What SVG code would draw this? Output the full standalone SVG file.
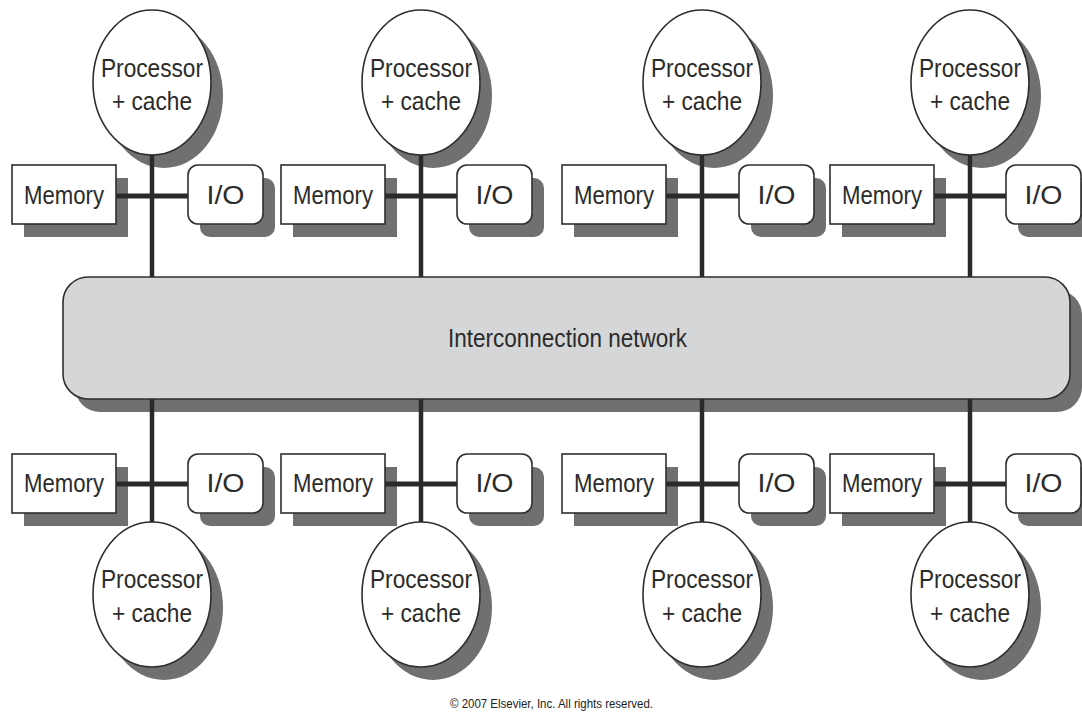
<svg xmlns="http://www.w3.org/2000/svg" width="1082" height="713" viewBox="0 0 1082 713">
  <style>
    .shadow { fill: #707070; stroke: none; }
    .box { fill: #ffffff; stroke: #2e2e2e; stroke-width: 1.6; }
    .bus { fill: #d5d6d7; stroke: #2e2e2e; stroke-width: 1.6; }
    .label { font-family: "Liberation Sans", Arial, sans-serif; font-size: 25px; fill: #2b2b2b; text-anchor: middle; }
    .link { stroke: #2a2a2a; fill: none; }
    .v { stroke-width: 4.5; }
    .h { stroke-width: 5; }
    .note { font-family: "Liberation Sans", Arial, sans-serif; font-size: 12px; fill: #222; text-anchor: middle; }
  </style>
  <rect width="1082" height="713" fill="#ffffff"/>

  <!-- drop shadows, offset down-right -->
  <g id="shadows" class="shadow" transform="translate(12,13)">
    <rect x="63" y="277" width="1007" height="122" rx="25"/>
    <!-- top row -->
    <ellipse cx="152" cy="82.5" rx="59" ry="72.5"/>
    <rect x="12" y="165" width="104" height="59"/>
    <rect x="188" y="165" width="75" height="59" rx="10"/>
    <ellipse cx="421" cy="82.5" rx="59" ry="72.5"/>
    <rect x="281" y="165" width="104" height="59"/>
    <rect x="457" y="165" width="75" height="59" rx="10"/>
    <ellipse cx="702" cy="82.5" rx="59" ry="72.5"/>
    <rect x="562" y="165" width="104" height="59"/>
    <rect x="739" y="165" width="75" height="59" rx="10"/>
    <ellipse cx="970" cy="82.5" rx="59" ry="72.5"/>
    <rect x="830" y="165" width="104" height="59"/>
    <rect x="1006" y="165" width="75" height="59" rx="10"/>
    <!-- bottom row -->
    <ellipse cx="152" cy="594.5" rx="59" ry="72.5"/>
    <rect x="12" y="454" width="104" height="59"/>
    <rect x="188" y="454" width="75" height="59" rx="10"/>
    <ellipse cx="421" cy="594.5" rx="59" ry="72.5"/>
    <rect x="281" y="454" width="104" height="59"/>
    <rect x="457" y="454" width="75" height="59" rx="10"/>
    <ellipse cx="702" cy="594.5" rx="59" ry="72.5"/>
    <rect x="562" y="454" width="104" height="59"/>
    <rect x="739" y="454" width="75" height="59" rx="10"/>
    <ellipse cx="970" cy="594.5" rx="59" ry="72.5"/>
    <rect x="830" y="454" width="104" height="59"/>
    <rect x="1006" y="454" width="75" height="59" rx="10"/>
  </g>

  <!-- connectors: processor-to-network stems and memory/IO crossbars -->
  <g id="connectors" class="link">
    <path class="v" d="M152 150V280 M421 150V280 M702 150V280 M970 150V280"/>
    <path class="v" d="M152 396V527 M421 396V527 M702 396V527 M970 396V527"/>
    <path class="h" d="M116 196H188 M385 196H457 M666 196H739 M934 196H1006"/>
    <path class="h" d="M116 484H188 M385 484H457 M666 484H739 M934 484H1006"/>
  </g>

  <g id="network">
    <rect class="bus" x="63" y="277" width="1007" height="122" rx="25"/>
    <text class="label" x="567.5" y="347" textLength="239" lengthAdjust="spacingAndGlyphs">Interconnection network</text>
  </g>

  <!-- top row nodes -->
  <g id="proc-t1"><ellipse class="box" cx="152" cy="82.5" rx="59" ry="72.5"/><text class="label" x="152" y="77" textLength="102" lengthAdjust="spacingAndGlyphs">Processor</text><text class="label" x="152" y="110" textLength="80" lengthAdjust="spacingAndGlyphs">+ cache</text></g>
  <g id="mem-t1"><rect class="box" x="12" y="165" width="104" height="59"/><text class="label" x="64" y="204" textLength="80" lengthAdjust="spacingAndGlyphs">Memory</text></g>
  <g id="io-t1"><rect class="box" x="188" y="165" width="75" height="59" rx="10"/><text class="label" x="225.5" y="204" textLength="38" lengthAdjust="spacingAndGlyphs">I/O</text></g>

  <g id="proc-t2"><ellipse class="box" cx="421" cy="82.5" rx="59" ry="72.5"/><text class="label" x="421" y="77" textLength="102" lengthAdjust="spacingAndGlyphs">Processor</text><text class="label" x="421" y="110" textLength="80" lengthAdjust="spacingAndGlyphs">+ cache</text></g>
  <g id="mem-t2"><rect class="box" x="281" y="165" width="104" height="59"/><text class="label" x="333" y="204" textLength="80" lengthAdjust="spacingAndGlyphs">Memory</text></g>
  <g id="io-t2"><rect class="box" x="457" y="165" width="75" height="59" rx="10"/><text class="label" x="494.5" y="204" textLength="38" lengthAdjust="spacingAndGlyphs">I/O</text></g>

  <g id="proc-t3"><ellipse class="box" cx="702" cy="82.5" rx="59" ry="72.5"/><text class="label" x="702" y="77" textLength="102" lengthAdjust="spacingAndGlyphs">Processor</text><text class="label" x="702" y="110" textLength="80" lengthAdjust="spacingAndGlyphs">+ cache</text></g>
  <g id="mem-t3"><rect class="box" x="562" y="165" width="104" height="59"/><text class="label" x="614" y="204" textLength="80" lengthAdjust="spacingAndGlyphs">Memory</text></g>
  <g id="io-t3"><rect class="box" x="739" y="165" width="75" height="59" rx="10"/><text class="label" x="776.5" y="204" textLength="38" lengthAdjust="spacingAndGlyphs">I/O</text></g>

  <g id="proc-t4"><ellipse class="box" cx="970" cy="82.5" rx="59" ry="72.5"/><text class="label" x="970" y="77" textLength="102" lengthAdjust="spacingAndGlyphs">Processor</text><text class="label" x="970" y="110" textLength="80" lengthAdjust="spacingAndGlyphs">+ cache</text></g>
  <g id="mem-t4"><rect class="box" x="830" y="165" width="104" height="59"/><text class="label" x="882" y="204" textLength="80" lengthAdjust="spacingAndGlyphs">Memory</text></g>
  <g id="io-t4"><rect class="box" x="1006" y="165" width="75" height="59" rx="10"/><text class="label" x="1043.5" y="204" textLength="38" lengthAdjust="spacingAndGlyphs">I/O</text></g>

  <!-- bottom row nodes -->
  <g id="proc-b1"><ellipse class="box" cx="152" cy="594.5" rx="59" ry="72.5"/><text class="label" x="152" y="588" textLength="102" lengthAdjust="spacingAndGlyphs">Processor</text><text class="label" x="152" y="622" textLength="80" lengthAdjust="spacingAndGlyphs">+ cache</text></g>
  <g id="mem-b1"><rect class="box" x="12" y="454" width="104" height="59"/><text class="label" x="64" y="492" textLength="80" lengthAdjust="spacingAndGlyphs">Memory</text></g>
  <g id="io-b1"><rect class="box" x="188" y="454" width="75" height="59" rx="10"/><text class="label" x="225.5" y="492" textLength="38" lengthAdjust="spacingAndGlyphs">I/O</text></g>

  <g id="proc-b2"><ellipse class="box" cx="421" cy="594.5" rx="59" ry="72.5"/><text class="label" x="421" y="588" textLength="102" lengthAdjust="spacingAndGlyphs">Processor</text><text class="label" x="421" y="622" textLength="80" lengthAdjust="spacingAndGlyphs">+ cache</text></g>
  <g id="mem-b2"><rect class="box" x="281" y="454" width="104" height="59"/><text class="label" x="333" y="492" textLength="80" lengthAdjust="spacingAndGlyphs">Memory</text></g>
  <g id="io-b2"><rect class="box" x="457" y="454" width="75" height="59" rx="10"/><text class="label" x="494.5" y="492" textLength="38" lengthAdjust="spacingAndGlyphs">I/O</text></g>

  <g id="proc-b3"><ellipse class="box" cx="702" cy="594.5" rx="59" ry="72.5"/><text class="label" x="702" y="588" textLength="102" lengthAdjust="spacingAndGlyphs">Processor</text><text class="label" x="702" y="622" textLength="80" lengthAdjust="spacingAndGlyphs">+ cache</text></g>
  <g id="mem-b3"><rect class="box" x="562" y="454" width="104" height="59"/><text class="label" x="614" y="492" textLength="80" lengthAdjust="spacingAndGlyphs">Memory</text></g>
  <g id="io-b3"><rect class="box" x="739" y="454" width="75" height="59" rx="10"/><text class="label" x="776.5" y="492" textLength="38" lengthAdjust="spacingAndGlyphs">I/O</text></g>

  <g id="proc-b4"><ellipse class="box" cx="970" cy="594.5" rx="59" ry="72.5"/><text class="label" x="970" y="588" textLength="102" lengthAdjust="spacingAndGlyphs">Processor</text><text class="label" x="970" y="622" textLength="80" lengthAdjust="spacingAndGlyphs">+ cache</text></g>
  <g id="mem-b4"><rect class="box" x="830" y="454" width="104" height="59"/><text class="label" x="882" y="492" textLength="80" lengthAdjust="spacingAndGlyphs">Memory</text></g>
  <g id="io-b4"><rect class="box" x="1006" y="454" width="75" height="59" rx="10"/><text class="label" x="1043.5" y="492" textLength="38" lengthAdjust="spacingAndGlyphs">I/O</text></g>

  <text class="note" x="551.5" y="708" textLength="203" lengthAdjust="spacingAndGlyphs">© 2007 Elsevier, Inc. All rights reserved.</text>
</svg>
